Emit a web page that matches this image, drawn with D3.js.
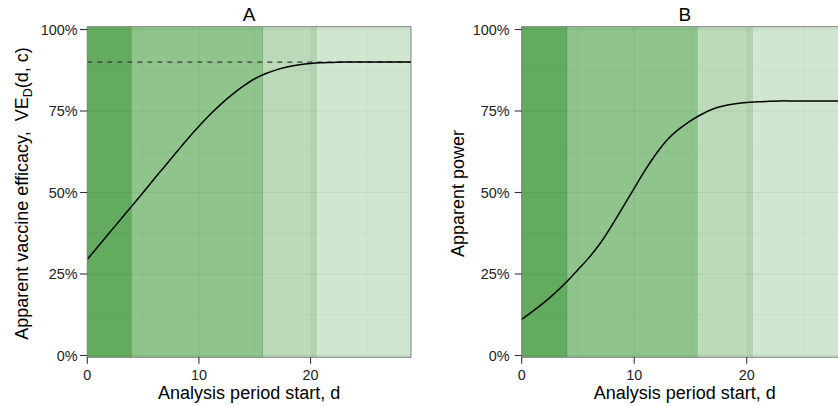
<!DOCTYPE html>
<html>
<head>
<meta charset="utf-8">
<script src="https://cdn.jsdelivr.net/npm/d3@7"></script>
<style>
  html, body { margin: 0; padding: 0; background: #fff; }
  svg { display: block; font-family: "Liberation Sans", Arial, Helvetica, sans-serif; }
</style>
</head>
<body>
<svg id="chart" width="838" height="406"></svg>
<script>
// ---------------- data ----------------
const days = [0,1,2,3,4,5,6,7,8,9,10,11,12,13,14,15,16,17,18,19,20,21,22,23,24,25,26,27,28,29];
const efficacyA = [0.295,0.336,0.377,0.418,0.459,0.500,0.542,0.583,0.624,0.665,0.703,0.739,0.772,0.801,0.827,0.849,0.865,0.877,0.886,0.892,0.896,0.898,0.899,0.900,0.900,0.900,0.900,0.900,0.900,0.900];
const powerB = [0.111,0.136,0.163,0.193,0.226,0.263,0.301,0.345,0.398,0.455,0.513,0.570,0.621,0.664,0.695,0.720,0.740,0.756,0.766,0.772,0.776,0.778,0.780,0.781,0.781,0.781,0.781,0.781,0.781,0.781];
const trueEfficacy = 0.9;
const bandEdges = [0, 4, 15.7, 20, 20.6, 29];
const markerA = 15.7;
const markerB = 4;
const xTicks = [0, 10, 20];
const xMinor = [5, 15, 25];
const yTicks = [0, 0.25, 0.5, 0.75, 1];
const yMinor = [0.125, 0.375, 0.625, 0.875];
const titles = ["A", "B"];
const xTitle = "Analysis period start, d";

// ---------------- styles ----------------
const bandFills = ["#63ab5f", "#8fc58c", "#bcdab9", "#b3d3b0", "#d1e6d0"];
const markerColors = ["#74ba70", "#4c9d48"];

const svg = d3.select("#chart");
const fmtPct = d => Math.round(d * 100) + "%";

const panels = [
  { title: titles[0], left: 87.3, right: 411, values: efficacyA, marker: markerA, mColor: markerColors[0],
    labelEnd: 77.5, tickStart: 80, yTitleX: 28.3, dashed: true },
  { title: titles[1], left: 521.7, right: 848, values: powerB, marker: markerB, mColor: markerColors[1],
    labelEnd: 509.5, tickStart: 514.7, yTitleX: 464, dashed: false }
];
const pTop = 26.7, pBottom = 357.3;
const y = d3.scaleLinear().domain([0, 1]).range([355.5, 29.5]);

panels.forEach((p, pi) => {
  const x = d3.scaleLinear().domain([0, 29]).range([p.left, p.right]);
  const g = svg.append("g");

  // bands
  g.selectAll("rect.band")
    .data(d3.range(bandEdges.length - 1))
    .join("rect")
    .attr("class", "band")
    .attr("x", i => x(bandEdges[i]))
    .attr("width", i => x(bandEdges[i + 1]) - x(bandEdges[i]))
    .attr("y", pTop)
    .attr("height", pBottom - pTop)
    .attr("fill", i => bandFills[i]);

  // grid
  g.selectAll("line.xminor").data(xMinor).join("line")
    .attr("x1", d => x(d)).attr("x2", d => x(d)).attr("y1", pTop).attr("y2", pBottom)
    .attr("stroke", "rgba(0,60,0,0.035)").attr("stroke-width", 1);
  g.selectAll("line.yminor").data(yMinor).join("line")
    .attr("y1", d => y(d)).attr("y2", d => y(d)).attr("x1", p.left).attr("x2", p.right)
    .attr("stroke", "rgba(0,60,0,0.035)").attr("stroke-width", 1);
  g.selectAll("line.xmajor").data(xTicks).join("line")
    .attr("x1", d => x(d)).attr("x2", d => x(d)).attr("y1", pTop).attr("y2", pBottom)
    .attr("stroke", "rgba(0,60,0,0.07)").attr("stroke-width", 1.2);
  g.selectAll("line.ymajor").data(yTicks).join("line")
    .attr("y1", d => y(d)).attr("y2", d => y(d)).attr("x1", p.left).attr("x2", p.right)
    .attr("stroke", "rgba(0,60,0,0.07)").attr("stroke-width", 1.2);

  // marker line
  g.append("line")
    .attr("x1", x(p.marker)).attr("x2", x(p.marker)).attr("y1", pTop).attr("y2", pBottom)
    .attr("stroke", p.mColor).attr("stroke-width", 1);

  // dashed reference
  if (p.dashed) {
    g.append("line")
      .attr("x1", x(0)).attr("x2", x(29)).attr("y1", y(trueEfficacy)).attr("y2", y(trueEfficacy))
      .attr("stroke", "#3a3a3a").attr("stroke-width", 1.2).attr("stroke-dasharray", "5,5");
  }

  // curve
  const line = d3.line().x((d, i) => x(days[i])).y(d => y(d)).curve(d3.curveCatmullRom.alpha(0.5));
  g.append("path").datum(p.values)
    .attr("d", line).attr("fill", "none").attr("stroke", "#000").attr("stroke-width", 1.5);

  // border
  g.append("rect")
    .attr("x", p.left).attr("y", pTop).attr("width", p.right - p.left).attr("height", pBottom - pTop)
    .attr("fill", "none").attr("stroke", "#7f7f7f").attr("stroke-width", 1);

  // y axis ticks & labels
  g.selectAll("line.ytick").data(yTicks).join("line")
    .attr("x1", p.tickStart).attr("x2", p.left).attr("y1", d => y(d)).attr("y2", d => y(d))
    .attr("stroke", "#333").attr("stroke-width", 1.1);
  g.selectAll("text.ylab").data(yTicks).join("text")
    .attr("x", p.labelEnd).attr("y", d => y(d)).attr("dy", "0.36em")
    .attr("text-anchor", "end").attr("font-size", 14.4).attr("fill", "#222")
    .text(fmtPct);

  // x axis ticks & labels
  g.selectAll("line.xtick").data(xTicks).join("line")
    .attr("x1", d => x(d)).attr("x2", d => x(d)).attr("y1", pBottom).attr("y2", pBottom + 6.5)
    .attr("stroke", "#333").attr("stroke-width", 1.1);
  g.selectAll("text.xlab").data(xTicks).join("text")
    .attr("x", d => x(d)).attr("y", 380)
    .attr("text-anchor", "middle").attr("font-size", 14.4).attr("fill", "#222")
    .text(d => d);

  // titles
  const cx = (p.left + p.right) / 2;
  g.append("text").attr("x", cx).attr("y", 20.7).attr("text-anchor", "middle")
    .attr("font-size", 19).attr("fill", "#000").text(p.title);
  g.append("text").attr("x", cx).attr("y", 399.3).attr("text-anchor", "middle")
    .attr("font-size", 18).attr("fill", "#000").text(xTitle);

  const cy = (pTop + pBottom) / 2 + 1.5;
  const yt = g.append("text")
    .attr("transform", `translate(${p.yTitleX},${cy}) rotate(-90)`)
    .attr("text-anchor", "middle").attr("font-size", 18).attr("fill", "#000")
    .style("white-space", "pre");
  if (pi === 0) {
    yt.append("tspan").text("Apparent vaccine efficacy,\u00A0\u00A0VE");
    yt.append("tspan").attr("font-size", 12.5).attr("dy", 4).text("D");
    yt.append("tspan").attr("dy", -4).text("(d, c)");
  } else {
    yt.text("Apparent power");
  }
});
</script>
</body>
</html>
